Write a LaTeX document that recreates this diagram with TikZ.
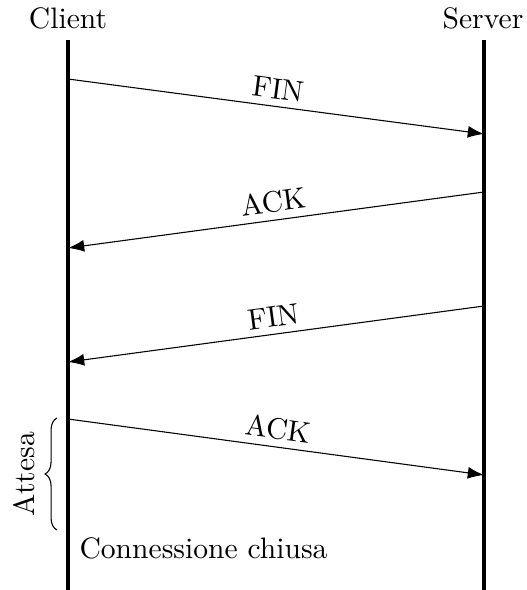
\documentclass[tikz,border=0pt]{standalone}
\usetikzlibrary{arrows.meta,decorations.pathreplacing}
\begin{document}
\begin{tikzpicture}[x=0.37pt,y=-0.37pt,font=\fontsize{10.95}{13}\selectfont,
  lifeline/.style={line width=1.2pt},
  msg/.style={line width=0.4pt,-{Latex[length=6pt,width=4.4pt]}},
  msglabel/.style={above,sloped,midway,inner sep=2.5pt},
  actor/.style={inner sep=0pt}]
  \useasboundingbox (0,0) rectangle (526,590);

  % participants
  \node[actor] (client) at (68,18) {Client};
  \node[actor] (server) at (483,18) {Server};
  \coordinate (cTop) at (68,40);
  \coordinate (cBot) at (68,590);
  \coordinate (sTop) at (484,40);
  \coordinate (sBot) at (484,590);
  \draw[lifeline] (cTop) -- (cBot);
  \draw[lifeline] (sTop) -- (sBot);

  % message end points
  \coordinate (c1) at (68,79);   \coordinate (s1) at (484,134);
  \coordinate (s2) at (484,192); \coordinate (c2) at (68,248);
  \coordinate (s3) at (484,306); \coordinate (c3) at (68,362);
  \coordinate (c4) at (68,419);  \coordinate (s4) at (484,475);

  % closing handshake
  \draw[msg] (c1) -- node[msglabel] {FIN} (s1);
  \draw[msg] (s2) -- node[msglabel] {ACK} (c2);
  \draw[msg] (s3) -- node[msglabel] {FIN} (c3);
  \draw[msg] (c4) -- node[msglabel] {ACK} (s4);

  % waiting interval
  \coordinate (bBot) at (57,530);
  \coordinate (bTop) at (57,418);
  \draw[line width=0.4pt,decorate,decoration={brace,amplitude=4.4pt}]
    (bBot) -- (bTop);
  \node[rotate=90,inner sep=0pt] (wait) at (24,474) {Attesa};

  \node[anchor=west,inner sep=0pt] (closed) at (79,548) {Connessione chiusa};
\end{tikzpicture}
\end{document}
